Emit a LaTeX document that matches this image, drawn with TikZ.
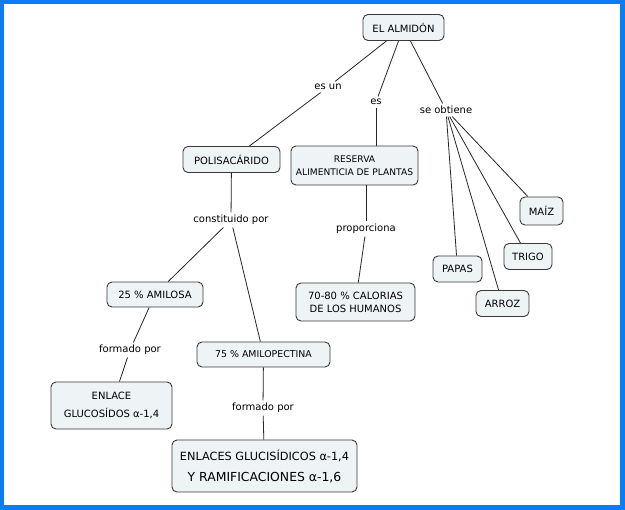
\documentclass[tikz,border=0pt]{standalone}
\usepackage{fontspec}
\setmainfont{DejaVu Sans}
\usetikzlibrary{calc}
\definecolor{frameblue}{HTML}{0A7CF6}
\definecolor{boxfill}{HTML}{EEF3F6}
\definecolor{boxline}{HTML}{3A3A3A}
\tikzset{
  box/.style={draw=boxline, fill=boxfill, rounded corners=5pt, line width=0.9pt,
    font=\fontsize{10}{13}\selectfont, align=center, inner xsep=5pt, inner ysep=3pt, minimum height=26pt},
  lab/.style={font=\fontsize{10}{12}\selectfont, fill=white, inner sep=2.5pt},
  conn/.style={draw=black!85, line width=0.8pt}
}
\begin{document}
\begin{tikzpicture}[x=1pt,y=-1pt]
\useasboundingbox (0,0) rectangle (625,510);
\fill[frameblue] (0,0) rectangle (625,510);
\fill[white] (4,4) rectangle (620,505);

\node[box, minimum width=81pt] (alm) at (403.5,27.5) {EL ALMIDÓN};
\node[box, minimum width=97pt] (poli) at (231.5,159.5) {POLISACÁRIDO};
\node[box, minimum height=39pt, minimum width=127pt, font=\fontsize{9.1}{13}\selectfont] (res) at (354.5,165.5) {RESERVA\\ALIMENTICIA DE PLANTAS};
\node[box, minimum height=28pt, minimum width=43pt] (maiz) at (541.5,211) {MAÍZ};
\node[box, minimum width=48pt] (trigo) at (528,256.5) {TRIGO};
\node[box, minimum width=49pt] (papas) at (457.5,269) {PAPAS};
\node[box, minimum width=53pt] (arroz) at (502.5,303.5) {ARROZ};
\node[box, minimum height=38pt, minimum width=119pt] (cal) at (355.5,302) {70-80 \% CALORIAS\\DE LOS HUMANOS};
\node[box, minimum height=25pt, minimum width=96pt] (amil) at (155,294.5) {25 \% AMILOSA};
\node[box, minimum height=25pt, minimum width=133pt, font=\fontsize{9.4}{13}\selectfont] (amip) at (263.5,354.5) {75 \% AMILOPECTINA};
\node[box, minimum height=47pt, minimum width=121pt, font=\fontsize{10}{18}\selectfont] (enl) at (111.5,405.5) {ENLACE\\GLUCOSÍDOS α-1,4};
\node[box, minimum height=52pt, minimum width=185pt, font=\fontsize{11.3}{21}\selectfont] (enls) at (264.5,466) {ENLACES GLUCISÍDICOS α-1,4\\{\fontsize{12.4}{21}\selectfont Y RAMIFICACIONES α-1,6}};

\node[lab] (esun) at (328,87) {es un};
\node[lab] (es) at (376,102) {es};
\node[lab] (obt) at (446,110) {se obtiene};
\node[lab] (cons) at (231,220) {constituido por};
\node[lab] (prop) at (366,229) {proporciona};
\node[lab] (form1) at (130,350) {formado por};
\node[lab] (form2) at (263,408) {formado por};

\path[conn] (alm) -- (esun);
\path[conn] (esun) -- (poli);
\path[conn] (alm) -- (es);
\path[conn] (es) -- (es |- res.north);
\path[conn] (alm) -- (obt);
\path[conn] (obt) -- (papas);
\path[conn] (obt) -- (arroz);
\path[conn] (obt) -- (trigo);
\path[conn] (obt) -- (maiz);
\path[conn] (poli) -- (cons);
\path[conn] (cons) -- (amil);
\path[conn] (cons) -- (amip);
\path[conn] (prop |- res.south) -- (prop);
\path[conn] (prop) -- (cal);
\path[conn] (amil) -- (form1);
\path[conn] (form1) -- (enl);
\path[conn] (amip) -- (form2);
\path[conn] (form2) -- (enls);
\end{tikzpicture}
\end{document}
